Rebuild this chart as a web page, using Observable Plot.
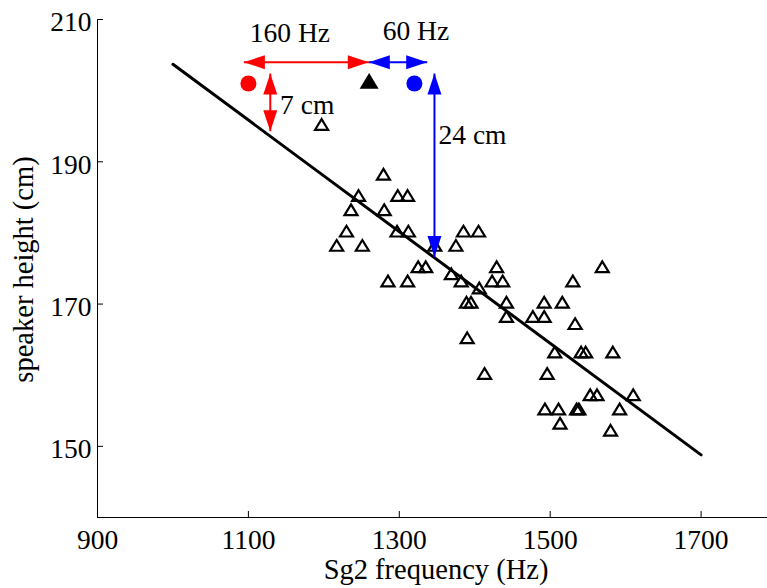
<!DOCTYPE html>
<html>
<head>
<meta charset="utf-8">
<script src="https://cdn.jsdelivr.net/npm/d3@7"></script>
<script src="https://cdn.jsdelivr.net/npm/@observablehq/plot@0.6"></script>
<style>
  html, body { margin: 0; padding: 0; background: #fff; }
</style>
</head>
<body>
<script>
// Speakers: Sg2 frequency (Hz) against speaker height (cm)
const sg2Hz = [1197,1279,1246,1298,1311,1236,1280,1230,1297,1312,1217,1251,1347,1375,1385,1405,1325,1335,1369,1285,1311,1382,1406,1429,1423,1437,1389,1395,1442,1442,1477,1492,1492,1516,1530,1569,1533,1390,1506,1541,1547,1583,1413,1496,1553,1562,1610,1493,1511,1535,1538,1592,1513,1580];
const heightCm = [195,188,185,185,185,183,183,180,180,180,178,178,178,178,180,180,175,175,174,173,173,173,172,175,173,173,170,170,170,168,168,168,170,170,173,175,167,165,163,163,163,163,160,160,157,157,157,155,155,155,155,155,153,152];

// Regression line endpoints
const fitHz = [1000, 1700];
const fitCm = [203.7, 148.8];

// Illustrated speakers: two coloured cases and the reference speaker
const caseHz = [1100, 1320];
const caseCm = [201, 201];
const caseColors = ["#ff0000", "#0000ff"];
const refHz = [1260];
const refCm = [201];

// Double-headed annotation arrows
const hArrowFrom = [1094, 1259.6];
const hArrowTo = [1259.6, 1337];
const hArrowAt = [204, 204];
const hArrowColors = ["#ff0000", "#0000ff"];
const vArrowAt = [1129, 1346.6];
const vArrowFrom = [194.3, 176.6];
const vArrowTo = [202.4, 202.4];
const vArrowColors = ["#ff0000", "#0000ff"];

// Annotation labels: frequency gaps (centred) and height gaps (left-aligned)
const hzNoteText = ["160 Hz", "60 Hz"];
const hzNoteX = [1155, 1322];
const hzNoteY = [208.1, 208.3];
const cmNoteText = ["7 cm", "24 cm"];
const cmNoteX = [1142, 1352];
const cmNoteY = [198.0, 193.8];

const xTicks = [900, 1100, 1300, 1500, 1700];
const yTicks = [150, 170, 190, 210];

const points = sg2Hz.map((x, i) => ({x, y: heightCm[i]}));
const fit = fitHz.map((x, i) => ({x, y: fitCm[i]}));
const cases = caseHz.map((x, i) => ({x, y: caseCm[i], color: caseColors[i]}));
const refs = refHz.map((x, i) => ({x, y: refCm[i]}));
const hArrows = hArrowFrom.map((x1, i) => ({x1, x2: hArrowTo[i], y: hArrowAt[i], color: hArrowColors[i]}));
const vArrows = vArrowAt.map((x, i) => ({x, y1: vArrowFrom[i], y2: vArrowTo[i], color: vArrowColors[i]}));
const heads = [
  ...hArrows.flatMap(a => [{x: a.x1, y: a.y, angle: -90, color: a.color}, {x: a.x2, y: a.y, angle: 90, color: a.color}]),
  ...vArrows.flatMap(a => [{x: a.x, y: a.y2, angle: 0, color: a.color}, {x: a.x, y: a.y1, angle: 180, color: a.color}])
];
const hzNotes = hzNoteText.map((t, i) => ({t, x: hzNoteX[i], y: hzNoteY[i]}));
const cmNotes = cmNoteText.map((t, i) => ({t, x: cmNoteX[i], y: cmNoteY[i]}));

// Upward triangle centred on its centroid
const triangle = {
  draw(context, size) {
    const r = Math.sqrt(size / Math.PI);
    const h = 1.65 * r;
    context.moveTo(0, -2 * h / 3);
    context.lineTo(r, h / 3);
    context.lineTo(-r, h / 3);
    context.closePath();
  }
};

// Filled arrowhead with its tip at the origin, pointing up
const arrowhead = {
  draw(context) {
    context.moveTo(0, 0);
    context.lineTo(7, 21);
    context.lineTo(-7, 21);
    context.closePath();
  }
};

const serif = "'Liberation Serif', 'Times New Roman', Times, serif";

const chart = Plot.plot({
  width: 767,
  height: 588,
  marginLeft: 97,
  marginRight: 0,
  marginTop: 19,
  marginBottom: 71,
  x: {domain: [900, 1788]},
  y: {domain: [140, 210]},
  style: {fontFamily: serif, fontSize: "27.5px", background: "white", color: "black", overflow: "visible"},
  marks: [
    // axis lines
    Plot.ruleY([140], {stroke: "black", strokeWidth: 1}),
    Plot.ruleX([900], {stroke: "black", strokeWidth: 1}),
    // inward ticks
    Plot.axisX(xTicks, {anchor: "bottom", tickSize: 6, dy: -6, tickFormat: () => "", label: null}),
    Plot.axisY(yTicks, {anchor: "left", tickSize: 6, dx: 6, tickFormat: () => "", label: null}),
    // tick labels
    Plot.axisX(xTicks, {anchor: "bottom", tickSize: 0, tickPadding: 12, tickFormat: d => String(d), label: null, fontFamily: serif}),
    Plot.axisY(yTicks, {anchor: "left", tickSize: 0, tickPadding: 6, dy: 3, tickFormat: d => String(d), label: null, fontFamily: serif}),
    // axis titles
    Plot.text(["Sg2 frequency (Hz)"], {text: d => d, frameAnchor: "bottom", textAnchor: "middle", lineAnchor: "middle", dx: 3.5, dy: 52.5, fontSize: 28.5, fontFamily: serif}),
    Plot.text(["speaker height (cm)"], {text: d => d, frameAnchor: "left", textAnchor: "middle", lineAnchor: "middle", rotate: -90, dx: -74, dy: 1, fontSize: 28.5, fontFamily: serif}),
    // regression line
    Plot.line(fit, {x: "x", y: "y", stroke: "black", strokeWidth: 3}),
    // speakers
    Plot.dot(points, {x: "x", y: "y", symbol: triangle, r: 6.5, fill: "none", stroke: "black", strokeWidth: 2.2}),
    // annotation arrows
    Plot.link(hArrows, {x1: "x1", x2: "x2", y1: "y", y2: "y", stroke: "color", strokeWidth: 2}),
    Plot.link(vArrows, {x1: "x", x2: "x", y1: "y1", y2: "y2", stroke: "color", strokeWidth: 2}),
    Plot.dot(heads, {x: "x", y: "y", symbol: arrowhead, r: 10, rotate: "angle", fill: "color", stroke: "none"}),
    // illustrated speakers
    Plot.dot(cases, {x: "x", y: "y", r: 8, fill: "color", stroke: "none"}),
    Plot.dot(refs, {x: "x", y: "y", symbol: triangle, r: 9.5, fill: "black", stroke: "none"}),
    // annotation labels
    Plot.text(hzNotes, {x: "x", y: "y", text: "t", textAnchor: "middle", fill: "black", fontSize: 27.5, fontFamily: serif}),
    Plot.text(cmNotes, {x: "x", y: "y", text: "t", textAnchor: "start", fill: "black", fontSize: 27.5, fontFamily: serif})
  ]
});

document.body.appendChild(chart);
</script>
</body>
</html>
